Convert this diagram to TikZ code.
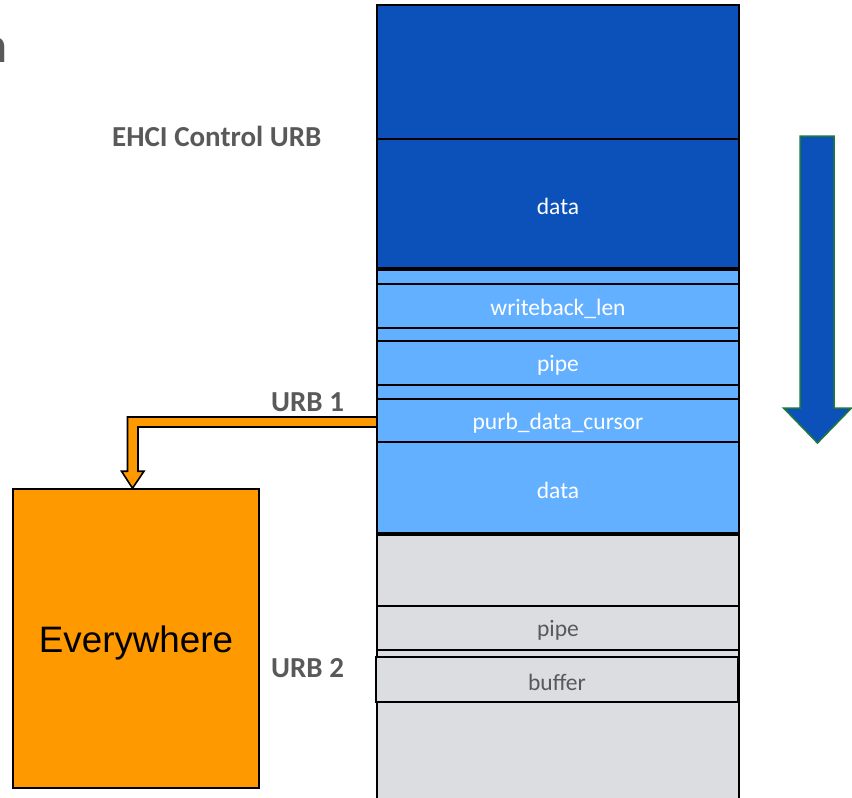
\documentclass[tikz,border=0pt]{standalone}
\usepackage{fontspec}
\setmainfont{Carlito}
\newfontfamily\arialf{Liberation Sans}
\usetikzlibrary{calc}
\definecolor{darkblue}{HTML}{0C51BA}
\definecolor{lightblue}{HTML}{62B0FF}
\definecolor{greyfill}{HTML}{DCDDE0}
\definecolor{orangefill}{HTML}{FF9900}
\definecolor{labelgrey}{HTML}{595959}
\definecolor{arrowgreen}{HTML}{1F7A3A}
\newcommand{\lowered}[1]{\raisebox{-2.5pt}[\height][\depth]{#1}}
\tikzset{
  cell/.style={draw=black, line width=2.6pt, inner sep=0pt, outer sep=0pt,
    minimum width=362pt, anchor=north west,
    font=\fontsize{23.5}{28}\selectfont},
  darkcell/.style={cell, fill=darkblue, text=white},
  lightcell/.style={cell, fill=lightblue, text=white},
  greycell/.style={cell, fill=greyfill, text=labelgrey},
  urblabel/.style={inner sep=0pt, anchor=base west, text=labelgrey,
    font=\fontsize{29}{34}\selectfont\bfseries},
  pointer/.style={draw=black, line width=1.6pt, fill=orangefill, line join=miter},
  flowarrow/.style={draw=arrowgreen, line width=1.5pt, fill=darkblue}
}
\begin{document}
\begin{tikzpicture}[x=1pt, y=-1pt]
\useasboundingbox (0,0) rectangle (852,798);
\begin{scope}
\clip (0,0) rectangle (852,798);
% clipped title letter at top-left
\node[inner sep=0pt, anchor=base west, text=labelgrey,
  font=\fontsize{50}{60}\selectfont\bfseries] (title) at (-19.75,62) {n};

% memory stack
\node[darkcell, minimum height=134pt] (top) at (377,5) {};
\node[darkcell, minimum height=129pt] (ddata) at (377,139) {\lowered{data}};
\node[lightcell, minimum height=263pt] (lbg) at (377,270) {};
\node[lightcell, minimum height=44pt] (wb) at (377,284) {\lowered{writeback\_len}};
\node[lightcell, minimum height=44pt] (lpipe) at (377,341) {\lowered{pipe}};
\node[lightcell, minimum height=43pt] (pdc) at (377,399) {\lowered{purb\_data\_cursor}};
\node[lightcell, minimum height=91pt] (ldata) at (377,442) {\lowered{data}};
\node[greycell, minimum height=270pt] (gbg) at (377,535) {};
\node[greycell, minimum height=44pt] (gpipe) at (377,606) {\lowered{pipe}};
\node[greycell, minimum height=45pt] (gbuf) at (376,657) {\lowered{buffer}};

% labels
\node[urblabel] (ehci) at (112,146) {EHCI Control URB};
\node[urblabel] (urb1) at (271,411) {URB 1};
\node[urblabel] (urb2) at (271,677) {URB 2};

% Everywhere box
\node[draw=black, line width=1.6pt, fill=orangefill, inner sep=0pt,
  minimum width=246pt, minimum height=299pt,
  font=\arialf\fontsize{36.8}{44}\selectfont] (ev) at (136,638.5)
  {\raisebox{-4pt}[\height][\depth]{Everywhere}};

% orange block arrow from purb_data_cursor to Everywhere
\coordinate (tip) at ($(ev.north)+(-3.5,0)$);
\draw[pointer] ($(pdc.west)+(0,-3.5)$) -| ($(tip)+(-5,-17)$)
  -- ++(-6,0) -- (tip) -- ($(tip)+(11.5,-17)$) -- ++(-6,0)
  |- ($(pdc.west)+(0,6.5)$) -- cycle;

% blue downward arrow
\draw[flowarrow] (800,136) -- (834,136) -- (834,408) -- (851.5,408)
  -- (817.5,443) -- (783.5,408) -- (800,408) -- cycle;
\end{scope}
\end{tikzpicture}
\end{document}
